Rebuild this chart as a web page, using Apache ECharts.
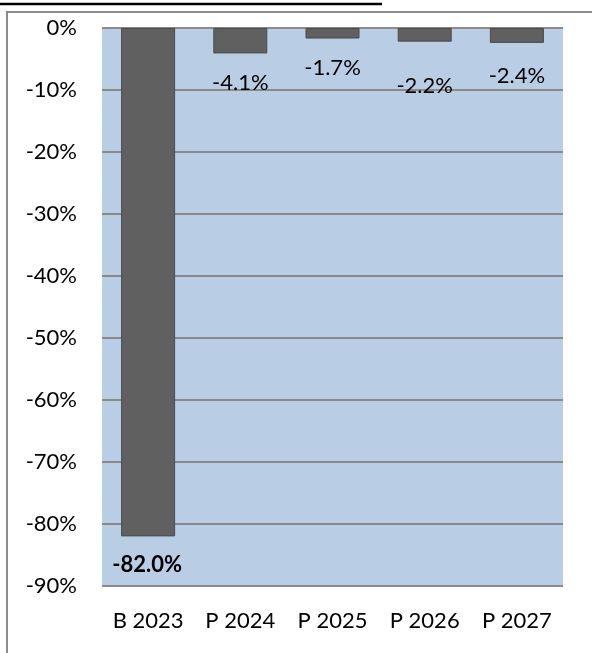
<!DOCTYPE html>
<html>
<head>
<meta charset="utf-8">
<style>
  html, body { margin: 0; padding: 0; background: #ffffff; }
  #chart-container { width: 592px; height: 653px; }
</style>
<script src="https://cdn.jsdelivr.net/npm/echarts@6/dist/echarts.min.js"></script>
</head>
<body>
<div id="chart-container"></div>
<script>
// chart data
const categories = ["B 2023", "P 2024", "P 2025", "P 2026", "P 2027"];
const changePct = [-82.0, -4.1, -1.7, -2.2, -2.4];
const yTicks = [0, -10, -20, -30, -40, -50, -60, -70, -80, -90];

// small nudges for labels that Excel placed by hand
const labelShift = [0, 0, 0, 15, 4];

const FONT = "Lato, 'Liberation Sans', sans-serif";

const dom = document.getElementById("chart-container");
const myChart = echarts.init(dom, null, {
  renderer: "canvas",
  useDirtyRect: false,
});

const barData = changePct.map((v, i) => ({
  value: v,
  label: {
    offset: [i === 0 ? -1 : 0, labelShift[i]],
    fontWeight: i === 0 ? "bold" : "normal",
  },
}));

const option = {
  backgroundColor: "#ffffff",
  animation: false,
  graphic: [
    {
      // underline of the (cut off) heading
      type: "line",
      shape: { x1: 0, y1: 4, x2: 382, y2: 4 },
      style: { stroke: "#000000", lineWidth: 2.5 },
    },
    {
      type: "polyline",
      shape: { points: [[7, 653], [7, 12], [592, 12]] },
      style: { stroke: "#8c8c8c", lineWidth: 2, fill: null },
    },
  ],
  grid: {
    left: 102,
    right: 29,
    top: 28,
    bottom: 67,
    show: true,
    backgroundColor: "#b9cde5",
    borderWidth: 0,
  },
  xAxis: {
    type: "category",
    data: categories,
    position: "bottom",
    axisLine: { show: false, onZero: false },
    axisTick: { show: false },
    axisLabel: {
      margin: 24,
      color: "#000000",
      fontFamily: FONT,
      fontSize: 22,
    },
  },
  yAxis: {
    type: "value",
    min: -90,
    max: 0,
    interval: 10,
    axisLine: { show: false },
    axisTick: { show: false },
    splitLine: {
      show: true,
      lineStyle: { color: "#8a8a8a", width: 2 },
    },
    axisLabel: {
      margin: 25,
      color: "#000000",
      fontFamily: FONT,
      fontSize: 22,
      formatter: function (v) {
        return yTicks.includes(v) ? v + "%" : "";
      },
    },
  },
  series: [
    {
      type: "bar",
      data: barData,
      barWidth: 54,
      itemStyle: {
        color: "#606060",
        borderColor: "#4a4a4a",
        borderWidth: 1,
      },
      label: {
        show: true,
        position: "bottom",
        distance: 18,
        color: "#000000",
        fontFamily: FONT,
        fontSize: 22,
        formatter: function (p) {
          return p.value.toFixed(1) + "%";
        },
      },
    },
  ],
};

if (option && typeof option === "object") {
  myChart.setOption(option);
}

window.addEventListener("resize", myChart.resize);
</script>
</body>
</html>
